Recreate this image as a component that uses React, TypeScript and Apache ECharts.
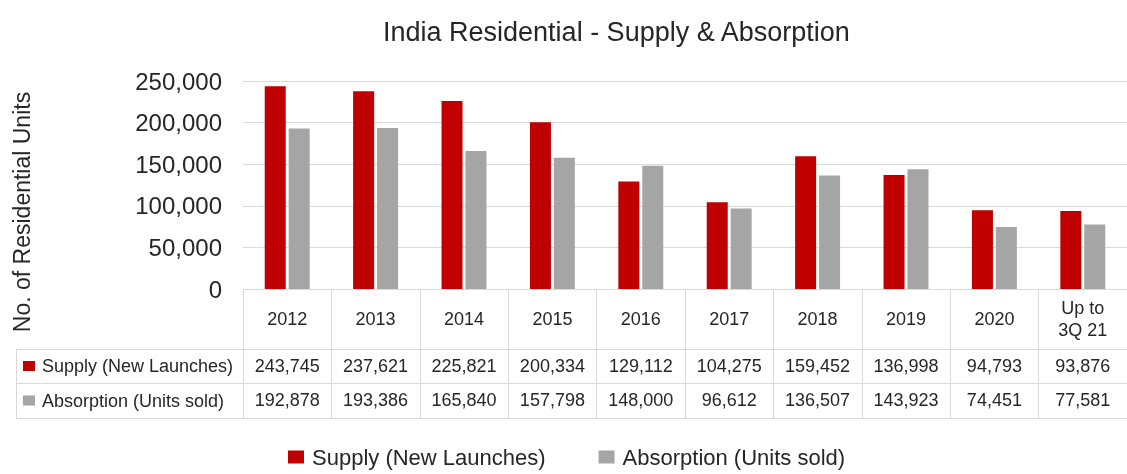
import React, { useEffect, useRef } from "react";
import * as echarts from "echarts";

const categories = ["2012", "2013", "2014", "2015", "2016", "2017", "2018", "2019", "2020", "Up to\n3Q 21"];
const supply = [243745, 237621, 225821, 200334, 129112, 104275, 159452, 136998, 94793, 93876];
const absorption = [192878, 193386, 165840, 157798, 148000, 96612, 136507, 143923, 74451, 77581];
const seriesNames = ["Supply (New Launches)", "Absorption (Units sold)"];
const colors = ["#C00000", "#A5A5A5"];
const yTicks = [0, 50000, 100000, 150000, 200000, 250000];

const FONT = "'Liberation Sans', Arial, sans-serif";
const TXT = "#262626";
const LINE = "#D9D9D9";
const fmt = (v: number) => v.toLocaleString("en-US");

export default function App() {
  const ref = useRef<HTMLDivElement>(null);
  useEffect(() => {
    const chart = echarts.init(ref.current!, null, { renderer: "svg" });
    const GL = 243, GT = 81, GH = 208;
    const rowTop = [GT + GH, GT + GH + 60, GT + GH + 94, GT + GH + 129];
    const tableAxis = (data: string[], offset: number, tickLen: number, margin: number, showLabel = true) => ({
      type: "category",
      gridIndex: 0,
      position: "bottom",
      offset,
      data,
      axisLine: { show: true, lineStyle: { color: LINE, width: 1 } },
      axisTick: { show: tickLen > 0, length: tickLen, lineStyle: { color: LINE, width: 1 } },
      axisLabel: {
        show: showLabel,
        interval: 0,
        margin,
        verticalAlign: "middle",
        fontFamily: FONT,
        fontSize: 18,
        lineHeight: 22,
        color: TXT,
      },
      splitLine: { show: false },
    });
    chart.setOption({
      animation: false,
      grid: { left: GL, top: GT, width: 890, height: GH, containLabel: false },
      title: {
        text: "India Residential - Supply & Absorption",
        left: 378,
        top: 13,
        textStyle: { fontFamily: FONT, fontSize: 27, fontWeight: "normal", color: TXT },
      },
      legend: {
        left: 283,
        top: 441,
        icon: "rect",
        itemWidth: 16,
        itemHeight: 13,
        itemGap: 53,
        data: seriesNames,
        textStyle: { fontFamily: FONT, fontSize: 22, color: TXT, padding: [0, 0, 0, 3] },
      },
      xAxis: [
        tableAxis(categories, 0, 60, 30),
        tableAxis(supply.map(fmt), 60, 34, 17),
        tableAxis(absorption.map(fmt), 94, 35, 17),
        tableAxis(categories.map(() => ""), 129, 0, 0, false),
      ],
      yAxis: {
        type: "value",
        min: yTicks[0],
        max: yTicks[yTicks.length - 1],
        interval: 50000,
        axisLine: { show: false },
        axisTick: { show: false },
        axisLabel: { formatter: (v: number) => fmt(v), fontFamily: FONT, fontSize: 24, color: TXT, margin: 21 },
        splitLine: { lineStyle: { color: LINE, width: 1 } },
      },
      series: [
        { name: seriesNames[0], type: "bar", data: supply, xAxisIndex: 0, barWidth: 21, barGap: "14%", itemStyle: { color: colors[0] } },
        { name: seriesNames[1], type: "bar", data: absorption, xAxisIndex: 0, barWidth: 21, barGap: "14%", itemStyle: { color: colors[1] } },
      ],
      graphic: [
        {
          type: "text",
          x: 22,
          y: 212,
          rotation: Math.PI / 2,
          style: { text: "No. of Residential Units", fontFamily: FONT, fontSize: 23, fill: TXT, align: "center", verticalAlign: "middle" },
        },
        ...[1, 2, 3].map((i) => ({
          type: "line",
          shape: { x1: 16, y1: rowTop[i] + 0.5, x2: GL, y2: rowTop[i] + 0.5 },
          style: { stroke: LINE, lineWidth: 1 },
        })),
        { type: "line", shape: { x1: 16.5, y1: rowTop[1], x2: 16.5, y2: rowTop[3] }, style: { stroke: LINE, lineWidth: 1 } },
        ...seriesNames.flatMap((name, i) => {
          const cy = (rowTop[i + 1] + rowTop[i + 2]) / 2;
          return [
            { type: "rect", shape: { x: 23, y: cy - 5, width: 12, height: 10 }, style: { fill: colors[i] } },
            { type: "text", x: 42, y: cy, style: { text: name, fontFamily: FONT, fontSize: 18, fill: TXT, verticalAlign: "middle" } },
          ];
        }),
      ],
    });
    return () => chart.dispose();
  }, []);
  return <div ref={ref} style={{ position: "fixed", left: 0, top: 0, width: 1127, height: 474 }} />;
}
